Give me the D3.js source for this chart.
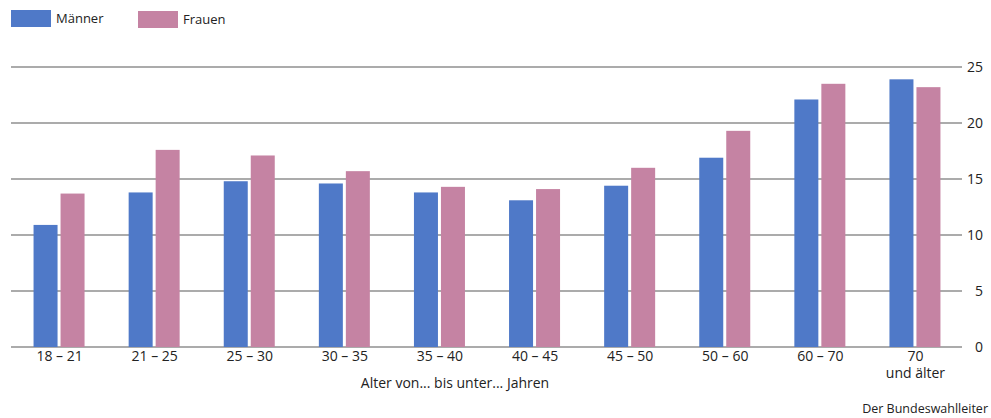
<!DOCTYPE html>
<html><head><meta charset="utf-8">
<script src="https://cdn.jsdelivr.net/npm/d3@7"></script>
<style>
html,body{margin:0;padding:0;background:#fff;}
svg{display:block;font-family:"Open Sans",sans-serif;}
</style></head>
<body><svg id="c" width="991" height="418"></svg>
<script>
const categories = ["18 – 21","21 – 25","25 – 30","30 – 35","35 – 40","40 – 45","45 – 50","50 – 60","60 – 70","70\nund älter"];
const maenner = [10.9,13.8,14.8,14.6,13.8,13.1,14.4,16.9,22.1,23.9];
const frauen  = [13.7,17.6,17.1,15.7,14.3,14.1,16.0,19.3,23.5,23.2];
const seriesNames = ["Männer","Frauen"];
const colors = ["#4f79c8","#c583a3"];
const yTicks = [0,5,10,15,20,25];

const svg = d3.select("#c");
const pL = 11, pR = 962, pT = 67, pB = 347;
const x = d3.scaleBand().domain(categories).range([pL, pR]);
const y = d3.scaleLinear().domain([0,25]).range([pB, pT]);
const barW = 24, gap = 3;

// grid
svg.append("g").selectAll("line").data(yTicks).join("line")
  .attr("x1", pL).attr("x2", pR)
  .attr("y1", d=>y(d)).attr("y2", d=>y(d))
  .attr("stroke", "#ababab").attr("stroke-width", 2);

// y labels right
const yAxis = d3.axisRight(y).tickValues(yTicks).tickSize(0).tickPadding(0);
const ya = svg.append("g").attr("transform", `translate(${pR},0)`).call(yAxis);
ya.select(".domain").remove();
ya.selectAll("text").attr("x", 21).attr("text-anchor","end")
  .style("font-size","14px").style("fill","#222").style("font-family","Open Sans, sans-serif");

const data = [maenner, frauen];
data.forEach((vals, si) => {
  svg.append("g").selectAll("rect").data(vals).join("rect")
    .attr("x", (d,i)=> x(categories[i]) + x.bandwidth()/2 - barW - gap/2 + si*(barW+gap) + 0.5)
    .attr("width", barW)
    .attr("y", d=>y(d))
    .attr("height", d=>y(0)-y(d))
    .attr("fill", colors[si]);
});

// x labels
const xl = svg.append("g").selectAll("text").data(categories).join("text")
  .attr("x", d=>x(d)+x.bandwidth()/2+1)
  .attr("y", 361)
  .attr("text-anchor","middle")
  .style("font-size","14px").style("fill","#222");
xl.each(function(d){
  const lines = d.split("\n");
  const t = d3.select(this);
  lines.forEach((l,k)=>{
    t.append("tspan").attr("x", t.attr("x")).attr("dy", k===0?0:17).text(l);
  });
});

svg.append("text").attr("x", 455).attr("y", 388).attr("text-anchor","middle")
  .style("font-size","14px").style("fill","#222").text("Alter von... bis unter... Jahren");

svg.append("text").attr("x", 988).attr("y", 413).attr("text-anchor","end")
  .style("font-size","12.5px").style("fill","#222").text("Der Bundeswahlleiter");

// legend
const legX = [11, 138];
seriesNames.forEach((n,i)=>{
  svg.append("rect").attr("x", legX[i]).attr("y", 10+i).attr("width",40).attr("height",17).attr("fill",colors[i]);
  svg.append("text").attr("x", legX[i]+45).attr("y", 23+i).style("font-size","13px").style("fill","#222").text(n);
});
</script></body></html>
